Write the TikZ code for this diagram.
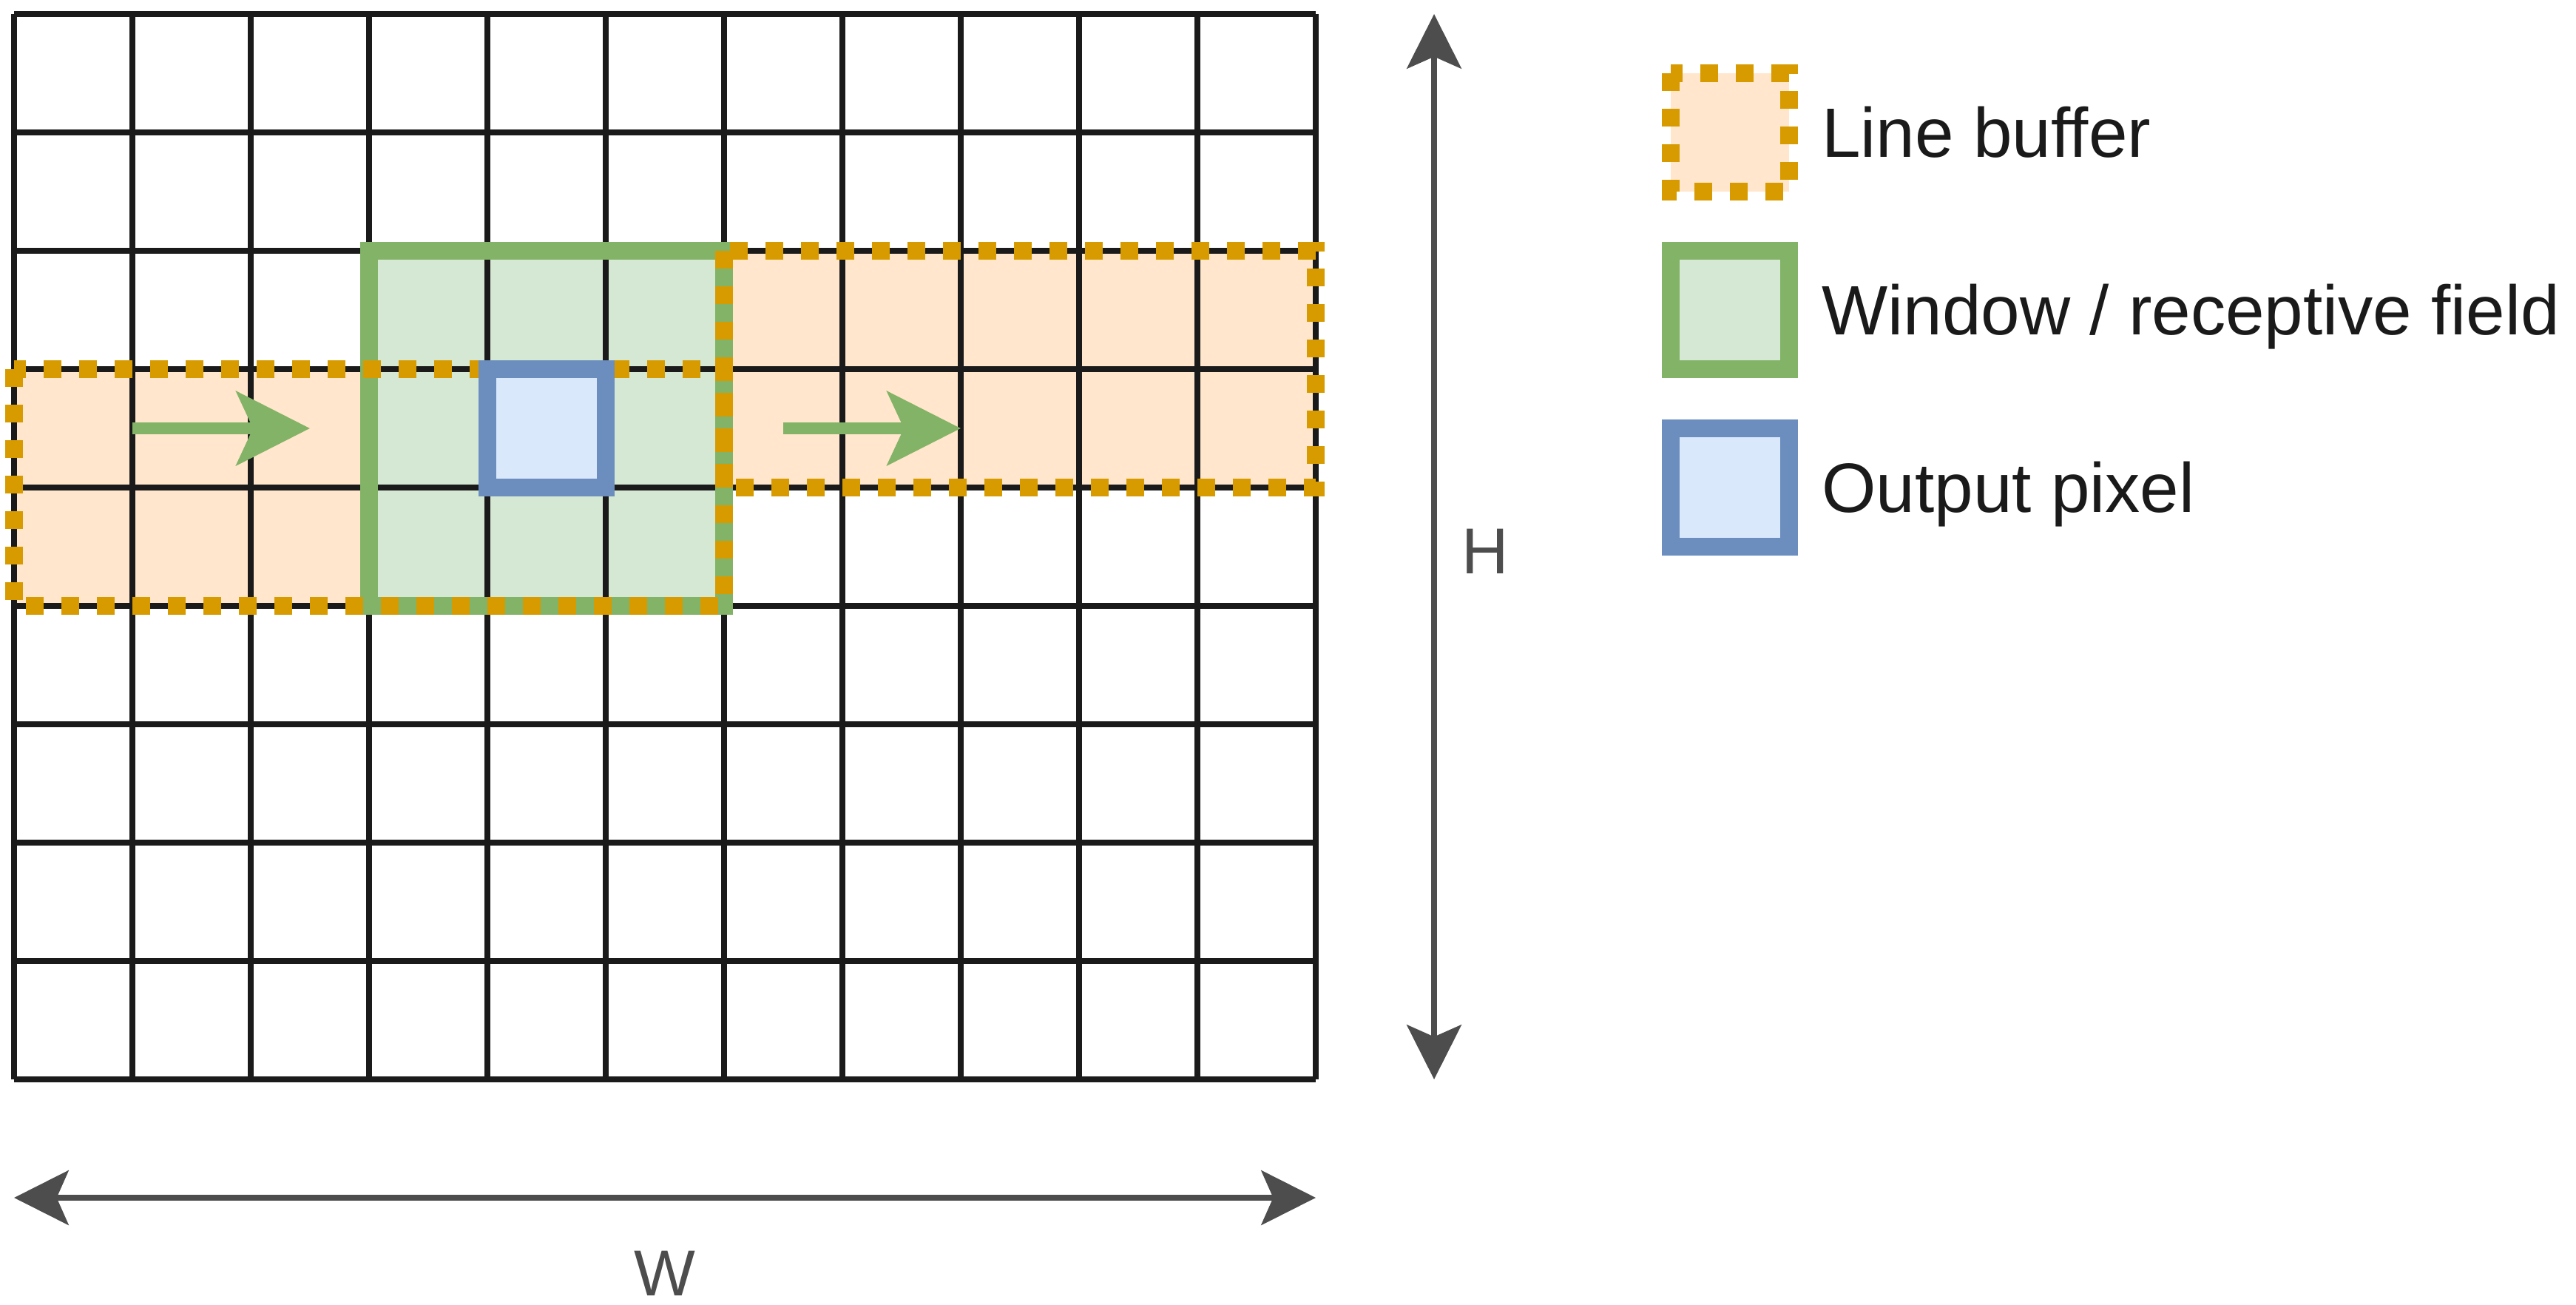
\documentclass[tikz,border=0pt]{standalone}
\usepackage{fontspec}
\setmainfont{Liberation Sans}
\usetikzlibrary{arrows.meta, positioning}

\definecolor{gridline}{HTML}{1A1A1A}
\definecolor{dimgray}{HTML}{4D4D4D}
\definecolor{bufline}{HTML}{D79B00}
\definecolor{buffill}{HTML}{FFE6CC}
\definecolor{winline}{HTML}{82B366}
\definecolor{winfill}{HTML}{D5E8D4}
\definecolor{pixline}{HTML}{6C8EBF}
\definecolor{pixfill}{HTML}{DAE8FC}

\tikzset{
  cellgrid/.style={gridline, line width=0.045cm},
  buffer/.style={bufline, line width=0.15cm, dash pattern=on 0.15cm off 0.15cm},
  window/.style={winline, line width=0.15cm},
  pixel/.style={pixline, line width=0.15cm},
  legend box/.style={minimum size=1cm, inner sep=0pt, outer sep=0pt},
  legend text/.style={inner sep=0pt, text=gridline, text height=0.423cm, text depth=0pt, font=\fontsize{16.8}{20}\selectfont},
  dim label/.style={inner sep=0pt, anchor=base, text=dimgray, font=\fontsize{15.6}{19}\selectfont},
  shift arrow/.style={winline, line width=0.1cm, -{Stealth[length=0.62cm, width=0.62cm, inset=0.14cm]}},
  dim arrow/.style={dimgray, line width=0.05cm, {Stealth[length=0.46cm, width=0.46cm, inset=0.1cm]}-{Stealth[length=0.46cm, width=0.46cm, inset=0.1cm]}}
}

\begin{document}
\begin{tikzpicture}
    \useasboundingbox (-0.119,-1.906) rectangle (21.65,9.119);

    % Fills below the grid
    \fill[buffill] (0,6) rectangle (6,4);
    \fill[buffill] (6,7) rectangle (11,5);
    \fill[winfill] (3,7) rectangle (6,4);
    \fill[pixfill] (4,6) rectangle (5,5);

    % Image grid (W x H)
    \draw[cellgrid] (0,0) grid (11,9);

    % Window, line buffers, output pixel
    \draw[window] (3,7) rectangle (6,4);
    \draw[buffer] (0,6) rectangle (6,4);
    \draw[buffer] (6,7) rectangle (11,5);
    \draw[pixel] (4,6) rectangle (5,5);

    % Shift direction
    \coordinate (shiftA) at (1,5.5);
    \coordinate (shiftB) at (2.5,5.5);
    \coordinate (shiftC) at (6.5,5.5);
    \coordinate (shiftD) at (8,5.5);
    \draw[shift arrow] (shiftA) -- (shiftB);
    \draw[shift arrow] (shiftC) -- (shiftD);

    % Dimensions
    \coordinate (hBottom) at (12,0);
    \coordinate (hTop) at (12,9);
    \coordinate (wLeft) at (0,-1);
    \coordinate (wRight) at (11,-1);
    \draw[dim arrow] (hBottom) -- (hTop);
    \draw[dim arrow] (wLeft) -- (wRight);
    \node[dim label] (lblH) at (12.43,4.275) {H};
    \node[dim label] (lblW) at (5.5,-1.825) {W};

    % Legend
    \node[legend box, fill=buffill] (keyBuf) at (14.5,8) {};
    \draw[buffer] (keyBuf.north west) rectangle (keyBuf.south east);
    \node[legend box, fill=winfill, draw=winline, line width=0.15cm] (keyWin) at (14.5,6.5) {};
    \node[legend box, fill=pixfill, draw=pixline, line width=0.15cm] (keyPix) at (14.5,5) {};
    \node[legend text, right=0.27cm of keyBuf] (txtBuf) {Line buffer};
    \node[legend text, right=0.27cm of keyWin] (txtWin) {Window / receptive field};
    \node[legend text, right=0.27cm of keyPix] (txtPix) {Output pixel};

\end{tikzpicture}
\end{document}
